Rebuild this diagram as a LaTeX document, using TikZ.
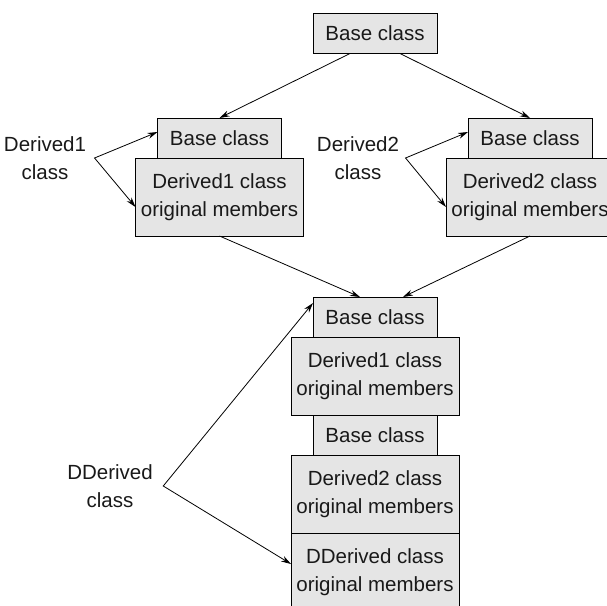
\documentclass[tikz,border=0pt]{standalone}
\usepackage{fontspec}
\setmainfont{Liberation Sans}
\usetikzlibrary{positioning,arrows.meta,calc}

\begin{document}
\begin{tikzpicture}[x=1pt,y=-1pt,font=\fontsize{20.5}{28.5}\selectfont,
  cls/.style={draw, fill=black!10, text=black!90, line width=0.9pt, outer sep=0pt,
    inner sep=0pt, minimum width=124pt, minimum height=40pt},
  orig/.style={cls, align=center, minimum width=168pt, minimum height=78pt},
  lbl/.style={align=center, text=black!90},
  arr/.style={-{Stealth[length=10pt,width=6pt]}, line width=0.8pt},
  fork/.style={{Stealth[length=10pt,width=6pt]}-{Stealth[length=10pt,width=6pt]}, line width=0.8pt}]
\clip (0,0) rectangle (607,605);
% base class on its own
\node[cls] (top) at (375,33.5) {Base class};
% the two derived classes
\node[cls] (b1) at (219.5,138) {Base class};
\node[orig, below=0pt of b1] (m1) {Derived1 class\\original members};
\node[cls] (b2) at (530,138) {Base class};
\node[orig, below=0pt of b2] (m2) {Derived2 class\\original members};
% the class derived from both
\node[cls] (b3) at (375,317) {Base class};
\node[orig, below=0pt of b3] (m3) {Derived1 class\\original members};
\node[cls, below=0pt of m3] (b4) {Base class};
\node[orig, below=0pt of b4] (m4) {Derived2 class\\original members};
\node[orig, below=0pt of m4] (m5) {DDerived class\\original members};
% side labels
\node[lbl] (l1) at (45,158) {Derived1\\class};
\coordinate[right=5pt of l1] (v1);
\node[lbl] (l2) at (358,158) {Derived2\\class};
\coordinate[right=3pt of l2] (v2);
\node[lbl] (l3) at (110,486) {DDerived\\class};
\coordinate[right=7pt of l3] (v3);
% inheritance arrows
\draw[arr] ($(top.south)+(-25,0)$) -- (b1.north);
\draw[arr] ($(top.south)+(25,0)$) -- (b2.north);
\draw[arr] (m1.south) -- ($(b3.north)+(-15,0)$);
\draw[arr] (m2.south) -- ($(b3.north)+(28,0)$);
\draw[fork] ($(b1.west)+(0,-6)$) -- (v1) -- ($(m1.west)+(0,10)$);
\draw[fork] ($(b2.west)+(0,-6)$) -- (v2) -- ($(m2.west)+(0,10)$);
\draw[fork] ($(b3.north west)+(0,6)$) -- (v3) -- ($(m5.west)+(0,-8)$);
\end{tikzpicture}
\end{document}
